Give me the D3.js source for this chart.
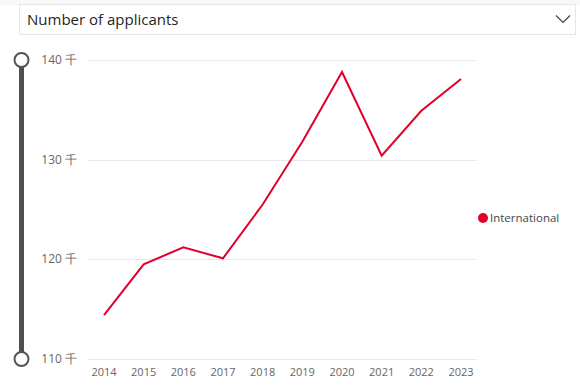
<!DOCTYPE html>
<html>
<head>
<meta charset="utf-8">
<script src="https://cdn.jsdelivr.net/npm/d3@7/dist/d3.min.js"></script>
<style>
  body { margin: 0; background: #fff; font-family: "Segoe UI", "Open Sans", "Noto Sans", sans-serif; }
</style>
</head>
<body>
<div id="chart"></div>
<script>
// applicants per year (thousands)
const years = ['2014', '2015', '2016', '2017', '2018', '2019', '2020', '2021', '2022', '2023'];
const international = [114.4, 119.5, 121.2, 120.1, 125.5, 131.8, 138.8, 130.4, 134.9, 138.1];
const yTicks = [110, 120, 130, 140];
const seriesName = 'International';
const title = 'Number of applicants';

const W = 580, H = 391;
const RED = '#e1002b';

const svg = d3.select('#chart').append('svg')
  .attr('width', W)
  .attr('height', H);

// dropdown header
svg.append('rect')
  .attr('x', 0).attr('y', 0).attr('width', W).attr('height', 5)
  .attr('fill', '#f8f8f8');
svg.append('rect')
  .attr('x', 19.5).attr('y', 4.5).attr('width', 556).attr('height', 30)
  .attr('fill', '#fff')
  .attr('stroke', '#e6e6e6');
svg.append('text')
  .attr('x', 27).attr('y', 25)
  .attr('font-size', 15)
  .attr('fill', '#252525')
  .text(title);
svg.append('path')
  .attr('d', 'M556,15.5 L563,22.5 L570,15.5')
  .attr('fill', 'none')
  .attr('stroke', '#444')
  .attr('stroke-width', 1.2);

const x = d3.scalePoint()
  .domain(years)
  .range([104, 461]);
const y = d3.scaleLinear()
  .domain([110, 140])
  .range([359, 60]);

// gridlines
svg.append('g')
  .selectAll('line')
  .data(yTicks)
  .enter()
  .append('line')
  .attr('x1', 88).attr('x2', 477)
  .attr('y1', d => Math.round(y(d)) + 0.5)
  .attr('y2', d => Math.round(y(d)) + 0.5)
  .attr('stroke', '#e8e8e8');

// y labels
svg.append('g')
  .selectAll('text')
  .data(yTicks)
  .enter()
  .append('text')
  .attr('x', 77)
  .attr('y', d => y(d) + 4)
  .attr('text-anchor', 'end')
  .attr('font-size', 12)
  .attr('fill', '#666')
  .text(d => d + ' 千');

// x labels
svg.append('g')
  .selectAll('text')
  .data(years)
  .enter()
  .append('text')
  .attr('x', d => x(d))
  .attr('y', 376)
  .attr('text-anchor', 'middle')
  .attr('font-size', 11)
  .attr('fill', '#666')
  .text(d => d);

// range slider on the left
svg.append('line')
  .attr('x1', 21.5).attr('x2', 21.5)
  .attr('y1', y(140)).attr('y2', y(110))
  .attr('stroke', '#505050')
  .attr('stroke-width', 5);
svg.append('g')
  .selectAll('circle')
  .data([140, 110])
  .enter()
  .append('circle')
  .attr('cx', 21.5)
  .attr('cy', d => y(d))
  .attr('r', 7)
  .attr('fill', '#fff')
  .attr('stroke', '#555')
  .attr('stroke-width', 2);

// the line
const line = d3.line()
  .x((d, i) => x(years[i]))
  .y(d => y(d));
svg.append('path')
  .datum(international)
  .attr('d', line)
  .attr('fill', 'none')
  .attr('stroke', RED)
  .attr('stroke-width', 2);

// legend
svg.append('circle')
  .attr('cx', 483).attr('cy', 218).attr('r', 5)
  .attr('fill', RED);
svg.append('text')
  .attr('x', 490).attr('y', 222)
  .attr('font-size', 11.5)
  .attr('fill', '#444')
  .text(seriesName);
</script>
</body>
</html>
